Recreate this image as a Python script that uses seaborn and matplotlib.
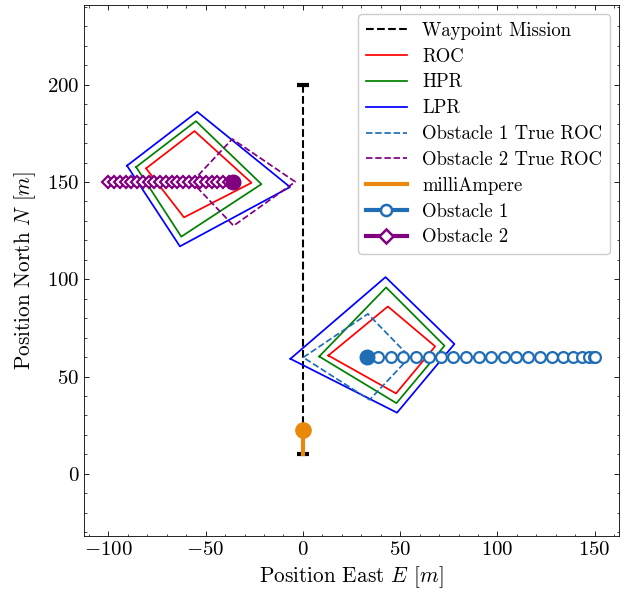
import matplotlib
matplotlib.use("Agg")
import matplotlib.pyplot as plt
import seaborn as sns
import numpy as np
import pandas as pd
from matplotlib.lines import Line2D
from matplotlib.ticker import MultipleLocator

# ---------------- data ----------------
wp_e = [0, 0]
wp_n = [200, 10]

ma_e = [0, 0]
ma_n = [10, 22.6]

obs1_pos = (32.8, 60.0)
obs1_trail_e = [38.7, 45.2, 51.7, 58.1, 64.6, 70.9, 77.2, 83.9, 90.3, 96.8,
                103.3, 109.6, 115.9, 122.0, 128.0, 133.6, 138.9, 143.4, 146.9, 149.5, 150.0]
obs1_trail_n = [60.0] * len(obs1_trail_e)

obs2_pos = (-36.0, 150.0)
obs2_trail_e = [-100.0, -97.0, -94.1, -91.1, -88.2, -85.2, -82.3, -79.3, -76.4, -73.4, -70.5,
                -67.5, -64.6, -61.6, -58.7, -55.7, -52.8, -49.8, -46.9, -43.9, -41.0, -38.0]
obs2_trail_n = [150.0] * len(obs2_trail_e)

roc1_e = [13.1, 43.7, 68.0, 47.9, 13.1]
roc1_n = [60.8, 86.0, 65.5, 41.3, 60.8]
hpr1_e = [8.4, 42.8, 72.8, 48.1, 8.4]
hpr1_n = [60.3, 95.8, 65.8, 36.3, 60.3]
lpr1_e = [-6.4, 42.5, 77.9, 48.4, -6.4]
lpr1_n = [59.1, 101.1, 66.7, 31.4, 59.1]
true1_e = [0.2, 33.4, 55.0, 34.3, 0.2]
true1_n = [59.8, 82.2, 60.0, 38.0, 59.8]

roc2_e = [-80.6, -55.7, -26.4, -61.1, -80.6]
roc2_n = [157.0, 176.2, 149.6, 131.8, 157.0]
hpr2_e = [-85.7, -55.0, -21.3, -62.5, -85.7]
hpr2_n = [157.7, 181.3, 148.9, 121.9, 157.7]
lpr2_e = [-90.4, -54.3, -6.6, -63.2, -90.4]
lpr2_n = [158.4, 186.1, 147.4, 116.9, 158.4]
true2_e = [-57.0, -36.3, -3.9, -35.6, -57.0]
true2_n = [150.0, 172.1, 150.1, 127.5, 150.0]

x_ticks = [-100, -50, 0, 50, 100, 150]
y_ticks = [0, 50, 100, 150, 200]

# ---------------- style ----------------
plt.rcParams.update({
    "font.family": "serif",
    "font.serif": ["cmr10"],
    "mathtext.fontset": "cm",
    "axes.formatter.use_mathtext": True,
    "axes.unicode_minus": True,
    "xtick.direction": "in",
    "ytick.direction": "in",
    "xtick.top": True,
    "ytick.right": True,
    "xtick.minor.visible": True,
    "ytick.minor.visible": True,
    "xtick.major.size": 3.5,
    "ytick.major.size": 3.5,
    "xtick.minor.size": 1.8,
    "ytick.minor.size": 1.8,
    "xtick.major.width": 0.6,
    "ytick.major.width": 0.6,
    "xtick.minor.width": 0.5,
    "ytick.minor.width": 0.5,
    "axes.linewidth": 0.6,
})

OBS1_C = "#1f6db5"
OBS2_C = "#800080"
MA_C = "#e8890c"

fig = plt.figure(figsize=(6.27, 5.95), dpi=100)
ax = fig.add_axes([84 / 627, (595 - 536) / 595, 535 / 627, 531 / 595])


def poly(e, n, color, ls="-", label=None, lw=1.25):
    sns.lineplot(x=e, y=n, sort=False, estimator=None, color=color, lw=lw,
                 linestyle=ls, ax=ax, label=label, legend=False)


# waypoint mission
poly(wp_e, wp_n, "black", ls="--", label="Waypoint Mission", lw=1.5)
ax.plot(wp_e, wp_n, linestyle="none", marker="_", ms=9, mew=3, color="black")

# regions
poly(roc1_e, roc1_n, "red", label="ROC")
poly(hpr1_e, hpr1_n, "green", label="HPR")
poly(lpr1_e, lpr1_n, "blue", label="LPR")
poly(roc2_e, roc2_n, "red")
poly(hpr2_e, hpr2_n, "green")
poly(lpr2_e, lpr2_n, "blue")
poly(true1_e, true1_n, OBS1_C, ls="--", label="Obstacle 1 True ROC")
poly(true2_e, true2_n, OBS2_C, ls="--", label="Obstacle 2 True ROC")

# milliAmpere
poly(ma_e, ma_n, MA_C, label="milliAmpere", lw=3)
ax.plot([ma_e[-1]], [ma_n[-1]], marker="o", ms=11, color=MA_C, linestyle="none")

# obstacles trails
ax.plot(obs1_trail_e, obs1_trail_n, linestyle="none", marker="o", ms=7.8, mew=1.6,
        mfc="white", mec=OBS1_C)
ax.plot([obs1_pos[0]], [obs1_pos[1]], marker="o", ms=10.5, color=OBS1_C, linestyle="none")
ax.plot(obs2_trail_e, obs2_trail_n, linestyle="none", marker="D", ms=6.5, mew=1.6,
        mfc="white", mec=OBS2_C)
ax.plot([obs2_pos[0]], [obs2_pos[1]], marker="o", ms=10.5, color=OBS2_C, linestyle="none")

ax.set_xlim(-112.5, 162.5)
ax.set_ylim(-32, 241)
ax.set_xticks(x_ticks)
ax.set_yticks(y_ticks)
ax.xaxis.set_minor_locator(MultipleLocator(10))
ax.yaxis.set_minor_locator(MultipleLocator(10))
ax.tick_params(labelsize=15)

ax.set_xlabel(r"Position East $E$ $[m]$", fontsize=15.3, labelpad=4)
ax.set_ylabel(r"Position North $N$ $[m]$", fontsize=15.3, labelpad=6)

handles, labels = ax.get_legend_handles_labels()
handles += [
    Line2D([], [], color=OBS1_C, lw=3, marker="o", ms=8, mfc="white", mew=1.8),
    Line2D([], [], color=OBS2_C, lw=3, marker="D", ms=7.5, mfc="white", mew=1.8),
]
labels += ["Obstacle 1", "Obstacle 2"]
leg = ax.legend(handles, labels, loc="upper right", fontsize=13.5, frameon=True,
                fancybox=True, edgecolor="0.8", framealpha=1.0, handlelength=2.2,
                labelspacing=0.42)

fig.savefig("out.png", dpi=100)
